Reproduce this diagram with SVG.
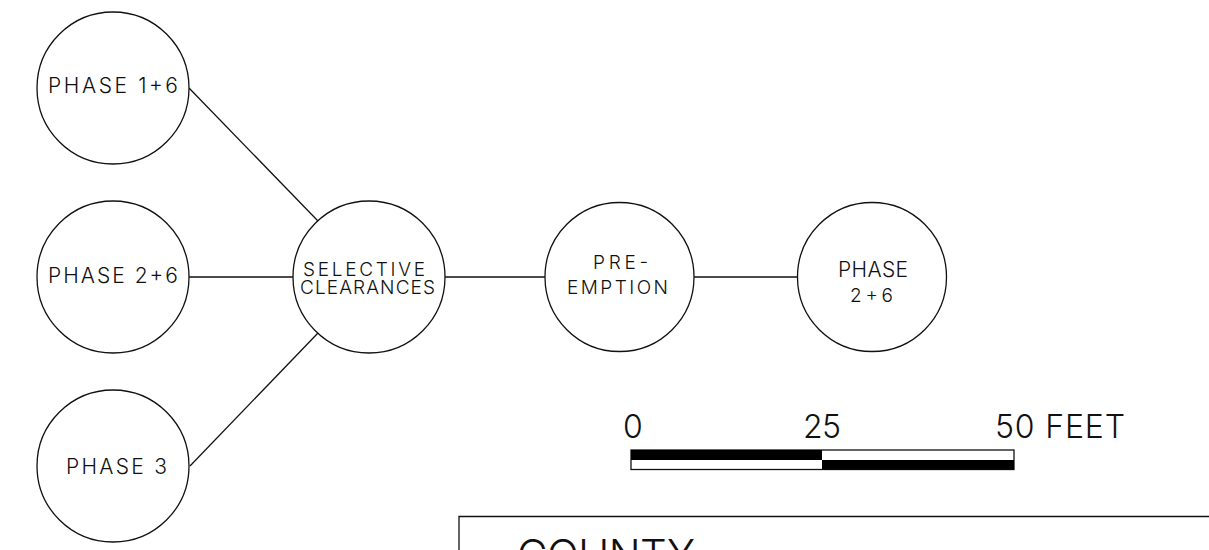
<svg xmlns="http://www.w3.org/2000/svg" width="1209" height="550" viewBox="0 0 1209 550">
<style>
.n{fill:#fff;stroke:#111;stroke-width:1.3}
.c{stroke:#111;stroke-width:1.3;fill:none}
text{font-family:Inter,"Liberation Sans",Arial,sans-serif;font-weight:300;fill:#111}
.t{font-size:21px}
.s{font-size:19px}
.b{font-size:32px}
</style>
<rect width="1209" height="550" fill="#fff"/>
<g id="connectors">
<line class="c" x1="189" y1="88" x2="318" y2="221"/>
<line class="c" x1="189" y1="277" x2="293" y2="277"/>
<line class="c" x1="190" y1="466" x2="318" y2="333"/>
<line class="c" x1="445" y1="277" x2="545" y2="277"/>
<line class="c" x1="694" y1="277" x2="797" y2="277"/>
</g>
<g id="phase16"><circle class="n" cx="113" cy="88" r="76"/><text class="t" x="48" y="93" textLength="130" lengthAdjust="spacing">PHASE 1+6</text></g>
<g id="phase26left"><circle class="n" cx="113" cy="277" r="76"/><text class="t" x="48" y="283" textLength="130" lengthAdjust="spacing">PHASE 2+6</text></g>
<g id="phase3"><circle class="n" cx="113" cy="466" r="76"/><text class="t" x="66" y="474" textLength="101" lengthAdjust="spacing">PHASE 3</text></g>
<g id="selective"><circle class="n" cx="369" cy="277" r="76"/><text class="s" x="303" y="276" textLength="122" lengthAdjust="spacing">SELECTIVE</text><text class="s" x="300" y="294" textLength="135" lengthAdjust="spacing">CLEARANCES</text></g>
<g id="preemption"><circle class="n" cx="619.5" cy="277" r="74.5"/><text class="s" x="593" y="269" textLength="55" lengthAdjust="spacing">PRE-</text><text class="s" x="567" y="294" textLength="101" lengthAdjust="spacing">EMPTION</text></g>
<g id="phase26right"><circle class="n" cx="872" cy="277" r="74.5"/><text class="t" x="838" y="277" textLength="70" lengthAdjust="spacing">PHASE</text><text class="s" x="850" y="302" textLength="43" lengthAdjust="spacing">2+6</text></g>
<g id="scalebar">
<text class="b" x="623" y="438" textLength="16" lengthAdjust="spacing">0</text>
<text class="b" x="803" y="438" textLength="38" lengthAdjust="spacing">25</text>
<text class="b" x="995" y="438" textLength="130" lengthAdjust="spacing">50 FEET</text>
<rect x="631" y="450" width="383" height="19.5" fill="#fff" stroke="#111" stroke-width="1.3"/>
<rect x="631" y="450" width="191" height="10" fill="#000"/>
<rect x="822" y="460" width="192" height="9.5" fill="#000"/>
</g>
<g id="titlebox">
<path class="c" d="M459 550 V516.5 H1210"/>
<text x="517" y="570" font-size="42" textLength="178" lengthAdjust="spacing">COUNTY</text>
</g>
</svg>
